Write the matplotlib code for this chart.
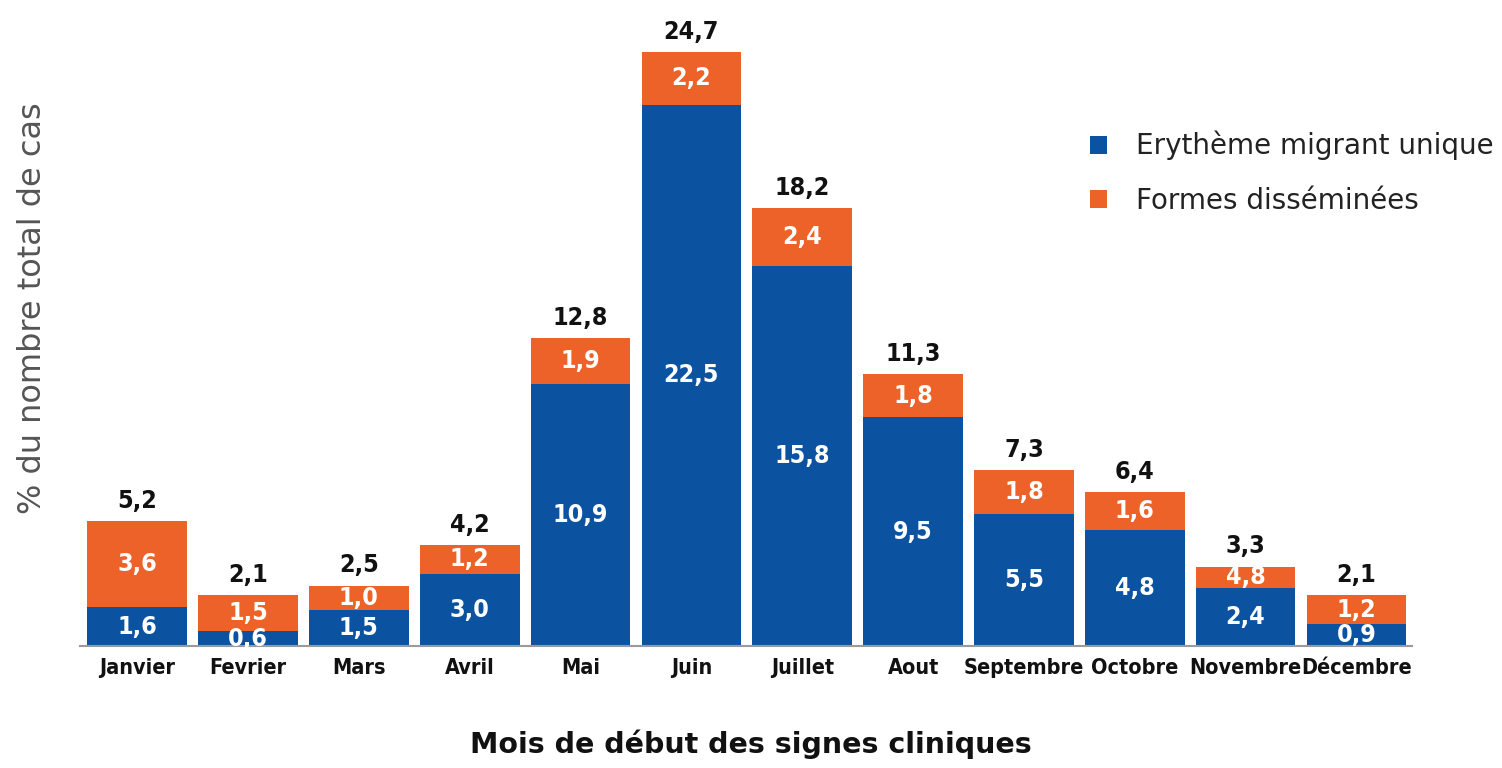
import numpy as np
import matplotlib
matplotlib.use('Agg')
from matplotlib import pyplot as plt

months = ['Janvier', 'Fevrier', 'Mars', 'Avril', 'Mai', 'Juin', 'Juillet',
          'Aout', 'Septembre', 'Octobre', 'Novembre', 'Décembre']
erythema = [1.6, 0.6, 1.5, 3.0, 10.9, 22.5, 15.8, 9.5, 5.5, 4.8, 2.4, 0.9]
disseminated = [3.6, 1.5, 1.0, 1.2, 1.9, 2.2, 2.4, 1.8, 1.8, 1.6, 0.9, 1.2]
totals = [5.2, 2.1, 2.5, 4.2, 12.8, 24.7, 18.2, 11.3, 7.3, 6.4, 3.3, 2.1]
# the source prints "4,8" on the November orange segment
disseminated_labels = ['3,6', '1,5', '1,0', '1,2', '1,9', '2,2', '2,4', '1,8',
                       '1,8', '1,6', '4,8', '1,2']

BLUE = '#0b53a1'
ORANGE = '#ec6228'
BOLD = dict(family='DejaVu Sans', fontstretch='condensed', fontweight='bold')


def fmt(v):
    return '{:.1f}'.format(v).replace('.', ',')


fig = plt.figure(figsize=(15.02, 7.68), dpi=100)
ax = fig.add_axes([0.053, 0.159, 0.887, 0.814])

x = np.arange(len(months))
b1 = ax.bar(x, erythema, width=0.9, color=BLUE, label='Erythème migrant unique')
b2 = ax.bar(x, disseminated, width=0.9, bottom=erythema, color=ORANGE,
            label='Formes disséminées')

for i in range(len(months)):
    ax.text(x[i], erythema[i] / 2, fmt(erythema[i]), ha='center', va='center',
            color='white', fontsize=18, **BOLD)
    ax.text(x[i], erythema[i] + disseminated[i] / 2, disseminated_labels[i],
            ha='center', va='center', color='white', fontsize=18, **BOLD)
    ax.annotate(fmt(totals[i]), (x[i], totals[i]), xytext=(0, 6),
                textcoords='offset points', ha='center', va='bottom',
                color='#111111', fontsize=18, **BOLD)

ax.set_xlim(-0.52, 11.5)
ax.set_ylim(0, 26)
ax.set_xticks(x)
ax.set_xticklabels(months, fontsize=15.5, color='#111111', **BOLD)
ax.tick_params(axis='x', length=0, pad=9)
ax.set_yticks([])
for s in ['top', 'right', 'left']:
    ax.spines[s].set_visible(False)
ax.spines['bottom'].set_color('#9a9a9a')
ax.spines['bottom'].set_linewidth(1.5)

ax.set_ylabel('% du nombre total de cas', fontsize=23, color='#555555')
ax.yaxis.set_label_coords(-0.024, 0.54)
fig.text(0.5, 0.012, 'Mois de début des signes cliniques', ha='center',
         va='bottom', fontsize=20.5, fontweight='bold', color='#111111')

fig.legend(handles=[b1, b2], loc='upper left', bbox_to_anchor=(0.709, 0.862),
           frameon=False, fontsize=20, handlelength=0.6, handleheight=0.6,
           handletextpad=1.05, labelspacing=0.95, labelcolor='#222222')

fig.savefig('out.png', dpi=100)
